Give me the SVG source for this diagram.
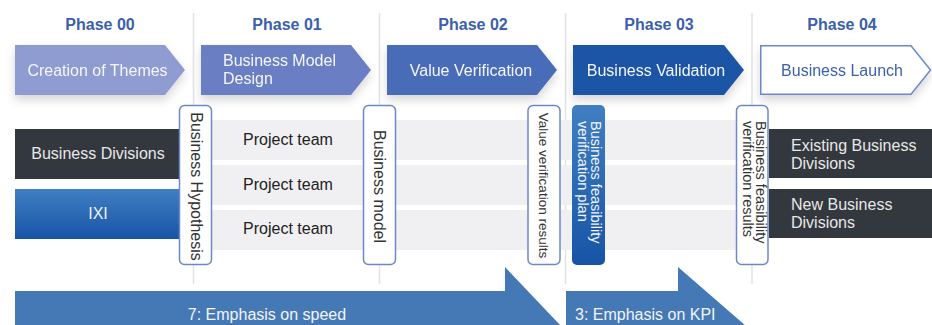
<svg xmlns="http://www.w3.org/2000/svg" width="932" height="325" viewBox="0 0 932 325">
  <style>
    text { font-family: "Liberation Sans", Arial, sans-serif; }
    .phase { font-size: 16px; font-weight: bold; fill: #3b5fab; text-anchor: middle; }
    .chev-t { font-size: 16px; fill: #f5f6fa; }
    .guide { stroke: #e2e2e6; stroke-width: 1.5; fill: none; }
    .row { fill: #f0f0f2; }
    .dark { fill: #33373e; }
    .dark-t { font-size: 16px; fill: #e8e8e8; }
    .team-t { font-size: 16px; fill: #222; text-anchor: middle; }
    .tag { fill: #ffffff; stroke: #6d88c8; stroke-width: 1.5; }
    .tag-t { fill: #333; }
    .band { fill: #4579b6; }
    .band-t { font-size: 16px; fill: #f2f4f8; }
  </style>
  <defs>
    <filter id="shadow" x="-10%" y="-20%" width="120%" height="160%">
      <feDropShadow dx="0" dy="5" stdDeviation="5" flood-color="#000" flood-opacity="0.16"/>
    </filter>
    <linearGradient id="blueGrad" x1="0" y1="0" x2="0" y2="1">
      <stop offset="0" stop-color="#407fc2"/>
      <stop offset="1" stop-color="#1754a6"/>
    </linearGradient>
  </defs>
  <rect width="932" height="325" fill="#ffffff"/>

  <g id="guides">
    <line class="guide" x1="193.5" y1="13" x2="193.5" y2="284"/>
    <line class="guide" x1="379.5" y1="13" x2="379.5" y2="284"/>
    <line class="guide" x1="565.5" y1="13" x2="565.5" y2="284"/>
    <line class="guide" x1="752" y1="13" x2="752" y2="284"/>
  </g>

  <g id="phase-labels">
    <text class="phase" x="100" y="30">Phase 00</text>
    <text class="phase" x="287" y="30">Phase 01</text>
    <text class="phase" x="473" y="30">Phase 02</text>
    <text class="phase" x="659" y="30">Phase 03</text>
    <text class="phase" x="842" y="30">Phase 04</text>
  </g>

  <g id="phase00" filter="url(#shadow)">
    <path d="M15,45 H165 L185,70 L165,95 H15 Z" fill="#8e9cd1"/>
    <text class="chev-t" x="97.5" y="76" text-anchor="middle">Creation of Themes</text>
  </g>
  <g id="phase01" filter="url(#shadow)">
    <path d="M201,45 H351 L371,70 L351,95 H201 Z" fill="#6a7fc3"/>
    <text class="chev-t" x="223" y="66">Business Model</text>
    <text class="chev-t" x="223" y="84">Design</text>
  </g>
  <g id="phase02" filter="url(#shadow)">
    <path d="M387,45 H537 L557,70 L537,95 H387 Z" fill="#4a6cb8"/>
    <text class="chev-t" x="471" y="76" text-anchor="middle">Value Verification</text>
  </g>
  <g id="phase03" filter="url(#shadow)">
    <path d="M573,45 H724 L744,70 L724,95 H573 Z" fill="#1b55a6"/>
    <text class="chev-t" x="656" y="76" text-anchor="middle">Business Validation</text>
  </g>
  <g id="phase04" filter="url(#shadow)">
    <path d="M760.75,45.75 H911 L930.5,70 L911,94.25 H760.75 Z" fill="#ffffff" stroke="#6d88c8" stroke-width="1.5"/>
    <text class="chev-t" x="842" y="76" text-anchor="middle" style="fill:#3d60aa">Business Launch</text>
  </g>

  <g id="team-rows">
    <rect class="row" x="212" y="120" width="524" height="40"/>
    <rect class="row" x="212" y="165" width="524" height="40"/>
    <rect class="row" x="212" y="210" width="524" height="40"/>
  </g>
  <g id="project-team-1"><text class="team-t" x="288" y="145">Project team</text></g>
  <g id="project-team-2"><text class="team-t" x="288" y="190">Project team</text></g>
  <g id="project-team-3"><text class="team-t" x="288" y="234">Project team</text></g>

  <g id="business-divisions">
    <rect class="dark" x="15" y="129" width="166" height="50"/>
    <text class="dark-t" x="98" y="159" text-anchor="middle">Business Divisions</text>
  </g>
  <g id="ixi">
    <rect x="15" y="189" width="166" height="50" fill="url(#blueGrad)"/>
    <text class="dark-t" x="98" y="219" text-anchor="middle" style="fill:#eef2fa">IXI</text>
  </g>

  <g id="existing-business-divisions">
    <rect class="dark" x="769" y="129" width="163" height="49"/>
    <text class="dark-t" x="791" y="151">Existing Business</text>
    <text class="dark-t" x="791" y="169">Divisions</text>
  </g>
  <g id="new-business-divisions">
    <rect class="dark" x="769" y="189" width="163" height="49"/>
    <text class="dark-t" x="791" y="210">New Business</text>
    <text class="dark-t" x="791" y="228">Divisions</text>
  </g>

  <g id="tag-business-hypothesis">
    <rect class="tag" x="179.5" y="105.5" width="32" height="159" rx="5"/>
    <text class="tag-t" font-size="16" text-anchor="middle" transform="translate(190.5,186.5) rotate(90)">Business Hypothesis</text>
  </g>
  <g id="tag-business-model">
    <rect class="tag" x="363.5" y="105.5" width="32" height="159" rx="5"/>
    <text class="tag-t" font-size="16" text-anchor="middle" transform="translate(374,186.5) rotate(90)">Business model</text>
  </g>
  <g id="tag-value-verification-results">
    <rect class="tag" x="528" y="105.5" width="32" height="159" rx="5"/>
    <text class="tag-t" font-size="13.5" text-anchor="middle" transform="translate(539,185.5) rotate(90)">Value verification results</text>
  </g>
  <g id="tag-feasibility-plan">
    <rect x="572" y="105" width="33" height="160" rx="5" fill="url(#blueGrad)"/>
    <text font-size="14.5" fill="#f2f5fb" transform="translate(591,121) rotate(90)">
      <tspan x="0" y="0">Business feasibility</tspan>
      <tspan x="0" y="13">verification plan</tspan>
    </text>
  </g>
  <g id="tag-feasibility-results">
    <rect class="tag" x="736.5" y="105.5" width="31.5" height="159" rx="5"/>
    <text class="tag-t" font-size="14.5" transform="translate(755.5,121) rotate(90)">
      <tspan x="0" y="0">Business feasibility</tspan>
      <tspan x="0" y="13">verification results</tspan>
    </text>
  </g>

  <g id="emphasis-speed">
    <path class="band" d="M15,291 H505 V267 L561,326 H15 Z"/>
    <text class="band-t" x="267" y="320" text-anchor="middle">7: Emphasis on speed</text>
  </g>
  <g id="emphasis-kpi">
    <path class="band" d="M566,291 H678 V267 L746,326 H566 Z"/>
    <text class="band-t" x="575" y="320">3: Emphasis on KPI</text>
  </g>

  <g id="connectors"></g>
</svg>
